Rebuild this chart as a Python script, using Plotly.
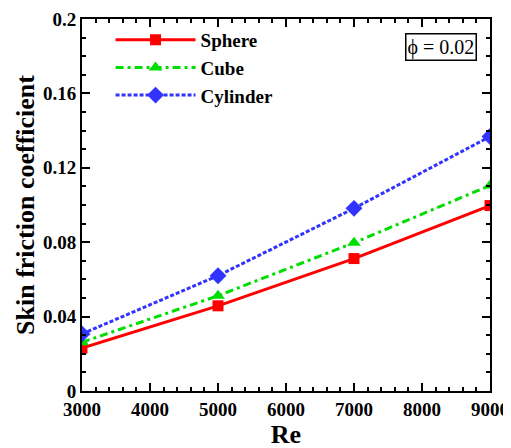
import plotly.graph_objects as go

re_vals = [3000, 5000, 7000, 9000]
sphere = [0.0231, 0.0458, 0.0712, 0.0997]
cube = [0.0262, 0.0512, 0.0797, 0.1105]
cylinder = [0.0307, 0.0620, 0.0982, 0.1368]

FONT = "Liberation Serif"

fig = go.Figure()
fig.add_trace(go.Scatter(x=re_vals, y=sphere, name="Sphere", mode="lines+markers",
                         line=dict(color="#ff0000", width=3),
                         marker=dict(symbol="square", size=11, color="#ff0000")))
fig.add_trace(go.Scatter(x=re_vals, y=cube, name="Cube", mode="lines+markers",
                         line=dict(color="#00dd00", width=3, dash="8px,4px,3px,4px"),
                         marker=dict(symbol="triangle-up", size=12, color="#00dd00")))
fig.add_trace(go.Scatter(x=re_vals, y=cylinder, name="Cylinder", mode="lines+markers",
                         line=dict(color="#3333ff", width=3, dash="4px,2px"),
                         marker=dict(symbol="diamond", size=13, color="#3333ff")))

axis_common = dict(showline=True, linecolor="black", linewidth=2, mirror="ticks",
                   ticks="inside", ticklen=8, tickwidth=1.5, tickcolor="black",
                   showgrid=False, zeroline=False, automargin=False,
                   tickfont=dict(family=FONT, size=19, color="black", weight="bold"))

fig.update_xaxes(range=[3000, 9000], dtick=1000, tick0=3000,
                 minor=dict(ticks="inside", ticklen=4, dtick=200, tickcolor="black"),
                 title=dict(text="<b>Re</b>", font=dict(family=FONT, size=26, color="black"), standoff=0),
                 **axis_common)
fig.update_yaxes(range=[0, 0.2], dtick=0.04, tick0=0, tickformat="~g",
                 minor=dict(ticks="inside", ticklen=4, dtick=0.01, tickcolor="black"),
                 title=dict(text="<b>Skin friction coefficient</b>", font=dict(family=FONT, size=26, color="black"), standoff=1),
                 **axis_common)

fig.add_annotation(xref="paper", yref="paper", x=0.968, y=0.962, xanchor="right", yanchor="top",
                   text="\u03d5 = 0.02", showarrow=False,
                   font=dict(family=FONT, size=20, color="black"),
                   bordercolor="black", borderwidth=1.5, borderpad=1, bgcolor="white")

# the page body adds an 8px offset, so margins are compensated
fig.update_layout(width=511, height=448, margin=dict(l=74, r=29, t=11, b=65),
                  plot_bgcolor="white", paper_bgcolor="white",
                  showlegend=True,
                  legend=dict(x=0.07, y=0.995, xanchor="left", yanchor="top",
                              bgcolor="rgba(0,0,0,0)", itemwidth=80,
                              font=dict(family=FONT, size=19, color="black", weight="bold"),
                              tracegroupgap=0))

fig.write_html("out.html")
